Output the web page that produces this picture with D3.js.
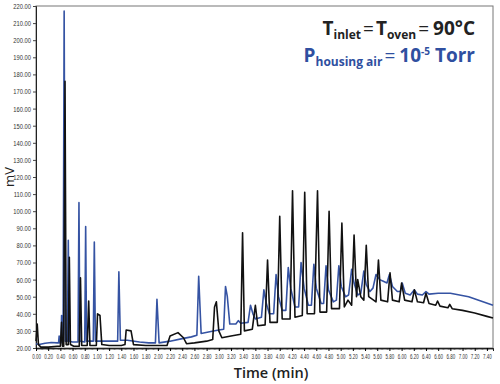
<!DOCTYPE html>
<html>
<head>
<meta charset="utf-8">
<script src="https://cdn.jsdelivr.net/npm/d3@7"></script>
<style>
  body { margin: 0; background: #fff; }
  svg { display: block; }
</style>
</head>
<body>
<div id="grafico"></div>
<script>
// Traços do cromatograma: [tempo (min), mV]
const tracoAzul = [
  [0.00, 22.5], [0.05, 22], [0.15, 22.8], [0.25, 23.2], [0.35, 23], [0.37, 23], [0.38, 27], [0.39, 23],
  [0.41, 23], [0.42, 39], [0.43, 24], [0.445, 24], [0.462, 217], [0.48, 24], [0.515, 24], [0.53, 83],
  [0.545, 24], [0.60, 23.5], [0.69, 23.5], [0.705, 105], [0.72, 24], [0.80, 23.5], [0.815, 91], [0.83, 24],
  [0.94, 24], [0.957, 82], [0.975, 24], [1.10, 24], [1.20, 24], [1.34, 24], [1.36, 64.5], [1.385, 24.5],
  [1.50, 24.5], [1.70, 23.5], [1.85, 23], [1.96, 23], [1.985, 48.5], [2.02, 23], [2.20, 24], [2.40, 25.5],
  [2.55, 26.5], [2.64, 27.5], [2.67, 62], [2.71, 28.5], [2.85, 29.5], [3.00, 30.5], [3.08, 31], [3.11, 56],
  [3.14, 50], [3.18, 34], [3.28, 34], [3.32, 36], [3.36, 34.5], [3.48, 35], [3.52, 45], [3.56, 40],
  [3.60, 37], [3.70, 38], [3.74, 54], [3.78, 46], [3.83, 40], [3.90, 40], [3.94, 63], [3.98, 50],
  [4.04, 42], [4.10, 42], [4.14, 67], [4.18, 55], [4.25, 44], [4.31, 44], [4.35, 70], [4.40, 55],
  [4.47, 45], [4.52, 45], [4.56, 69], [4.60, 55], [4.68, 46], [4.72, 46], [4.76, 68], [4.80, 54],
  [4.88, 47], [4.93, 48], [4.97, 68], [5.01, 56], [5.08, 50], [5.13, 51], [5.18, 66], [5.22, 58],
  [5.28, 51], [5.33, 52], [5.38, 65], [5.42, 57], [5.48, 53], [5.53, 55], [5.58, 63], [5.64, 60],
  [5.70, 59], [5.76, 58], [5.80, 63], [5.85, 56], [5.93, 53], [5.98, 53], [6.01, 58], [6.06, 52],
  [6.14, 51], [6.21, 54], [6.26, 51.5], [6.34, 51], [6.40, 53], [6.45, 51.5], [6.60, 52], [6.80, 52],
  [6.95, 51], [7.10, 50], [7.30, 47.5], [7.50, 45]
];

const tracoPreto = [
  [0.00, 24], [0.02, 34], [0.04, 22], [0.08, 20.5], [0.20, 20.5], [0.35, 21], [0.40, 21], [0.42, 35],
  [0.435, 21], [0.455, 21], [0.476, 176], [0.495, 22], [0.53, 22], [0.547, 73], [0.565, 22], [0.62, 21],
  [0.71, 21], [0.73, 61], [0.75, 21.5], [0.84, 21.5], [0.865, 47.5], [0.885, 21.5], [0.99, 21.5], [1.01, 40],
  [1.05, 39], [1.08, 22], [1.20, 21.5], [1.40, 21.5], [1.46, 22], [1.48, 30.5], [1.56, 30], [1.60, 22],
  [1.80, 21.5], [2.00, 21.5], [2.15, 21.5], [2.20, 27], [2.33, 29], [2.42, 26], [2.47, 22.5], [2.60, 23],
  [2.80, 24], [2.90, 25], [2.93, 44], [2.96, 47], [3.00, 30], [3.05, 26], [3.20, 27], [3.36, 28],
  [3.39, 87.4], [3.42, 30], [3.55, 31], [3.60, 45], [3.64, 33], [3.76, 33.5], [3.80, 71.5], [3.84, 35],
  [3.96, 35], [4.00, 97], [4.04, 37], [4.17, 37], [4.21, 112], [4.25, 38], [4.37, 39], [4.41, 111],
  [4.45, 40], [4.57, 40], [4.62, 112], [4.66, 41], [4.77, 41], [4.81, 100], [4.85, 43], [4.98, 43],
  [5.02, 93], [5.06, 44], [5.12, 48], [5.18, 45], [5.22, 86], [5.26, 50], [5.28, 60], [5.33, 50],
  [5.38, 48], [5.42, 80], [5.46, 50], [5.58, 47], [5.62, 71.5], [5.66, 48], [5.77, 47], [5.81, 64],
  [5.85, 48], [5.96, 47], [6.00, 58], [6.05, 48], [6.17, 47], [6.21, 54], [6.26, 47], [6.36, 46.5],
  [6.40, 52], [6.45, 46], [6.56, 45], [6.59, 47.5], [6.63, 44.5], [6.76, 43.5], [6.79, 45.5], [6.83, 43],
  [7.00, 42], [7.20, 40.5], [7.40, 38.5], [7.50, 37.5]
];

// Eixos
const ticksY = d3.range(20, 221, 10);
const ticksX = d3.range(0, 38).map(i => +(i * 0.2).toFixed(2));
const ticksXMenores = d3.range(0, 376).map(i => +(i * 0.02).toFixed(2));

const width = 500, height = 384;
const margin = { top: 6, right: 7, bottom: 36, left: 36 };

const svg = d3.select("#grafico")
  .append("svg")
  .attr("width", width)
  .attr("height", height);

const x = d3.scaleLinear()
  .domain([0, 7.5])
  .range([margin.left, width - margin.right]);

const y = d3.scaleLinear()
  .domain([20, 220])
  .range([height - margin.bottom, margin.top]);

// moldura
svg.append("rect")
  .attr("x", margin.left)
  .attr("y", margin.top)
  .attr("width", width - margin.right - margin.left)
  .attr("height", height - margin.bottom - margin.top)
  .attr("fill", "none")
  .attr("stroke", "#777")
  .attr("stroke-width", 1);

// eixo Y
const eixoY = svg.append("g")
  .attr("transform", `translate(${margin.left},0)`)
  .call(d3.axisLeft(y).tickValues(ticksY).tickSize(3).tickPadding(2).tickFormat(d => d.toFixed(2)));
eixoY.selectAll("text")
  .attr("font-family", "'Liberation Sans', sans-serif")
  .attr("font-size", 7.5)
  .attr("x", -6.5)
  .attr("transform", "scale(0.77,1)")
  .attr("fill", "#333");
eixoY.select(".domain").attr("stroke", "#222");
eixoY.selectAll(".tick line").attr("stroke", "#444");

// eixo X (ticks menores)
svg.append("g")
  .attr("transform", `translate(0,${height - margin.bottom})`)
  .call(d3.axisBottom(x).tickValues(ticksXMenores).tickSize(2).tickFormat(""))
  .call(g => g.select(".domain").remove())
  .selectAll(".tick line").attr("stroke", "#777");

const eixoX = svg.append("g")
  .attr("transform", `translate(0,${height - margin.bottom})`)
  .call(d3.axisBottom(x).tickValues(ticksX).tickSize(3).tickPadding(3).tickFormat(d => d.toFixed(2)));
eixoX.selectAll("text")
  .attr("font-family", "'Liberation Sans', sans-serif")
  .attr("font-size", 7.5)
  .attr("transform", "scale(0.6,1)")
  .attr("fill", "#333");
eixoX.select(".domain").attr("stroke", "#222");

// linhas
const linha = d3.line()
  .x(d => x(d[0]))
  .y(d => y(d[1]));

svg.append("path")
  .datum(tracoAzul)
  .attr("fill", "none")
  .attr("stroke", "#3553a3")
  .attr("stroke-width", 1.6)
  .attr("stroke-linejoin", "round")
  .attr("d", linha);

svg.append("path")
  .datum(tracoPreto)
  .attr("fill", "none")
  .attr("stroke", "#111")
  .attr("stroke-width", 1.6)
  .attr("stroke-linejoin", "round")
  .attr("d", linha);

// títulos dos eixos
svg.append("text")
  .attr("transform", `translate(14,${(margin.top + height - margin.bottom) / 2}) rotate(-90)`)
  .attr("text-anchor", "middle")
  .attr("font-family", "'Open Sans', sans-serif")
  .attr("font-size", 13)
  .attr("fill", "#222")
  .text("mV");

svg.append("text")
  .attr("x", 271)
  .attr("y", 378)
  .attr("text-anchor", "middle")
  .attr("font-family", "'Open Sans', sans-serif")
  .attr("font-weight", 600)
  .attr("font-size", 14.5)
  .attr("fill", "#222")
  .text("Time (min)");

// anotação
const anot1 = svg.append("text")
  .attr("x", 475)
  .attr("y", 35)
  .attr("text-anchor", "end")
  .attr("font-family", "'Open Sans', sans-serif")
  .attr("font-weight", 700)
  .attr("font-size", 19)
  .attr("fill", "#222");
anot1.append("tspan").text("T");
anot1.append("tspan").attr("font-size", 12).attr("dy", 4).text("inlet");
anot1.append("tspan").attr("font-weight", 400).attr("dy", -4).attr("dx", 2).text("=");
anot1.append("tspan").attr("dx", 2).text("T");
anot1.append("tspan").attr("font-size", 12).attr("dy", 4).text("oven");
anot1.append("tspan").attr("font-weight", 400).attr("dy", -4).attr("dx", 2).text("=");
anot1.append("tspan").attr("dx", 4).text("90°C");

const anot2 = svg.append("text")
  .attr("x", 475)
  .attr("y", 62)
  .attr("text-anchor", "end")
  .attr("font-family", "'Open Sans', sans-serif")
  .attr("font-weight", 700)
  .attr("font-size", 19)
  .attr("fill", "#2f4fa0");
anot2.append("tspan").text("P");
anot2.append("tspan").attr("font-size", 12).attr("dy", 4).text("housing air");
anot2.append("tspan").attr("font-weight", 400).attr("dy", -4).attr("dx", 2).text("=");
anot2.append("tspan").attr("dx", 4).text("10");
anot2.append("tspan").attr("font-size", 10).attr("dy", -7).text("-5");
anot2.append("tspan").attr("dy", 7).text(" Torr");
</script>
</body>
</html>
